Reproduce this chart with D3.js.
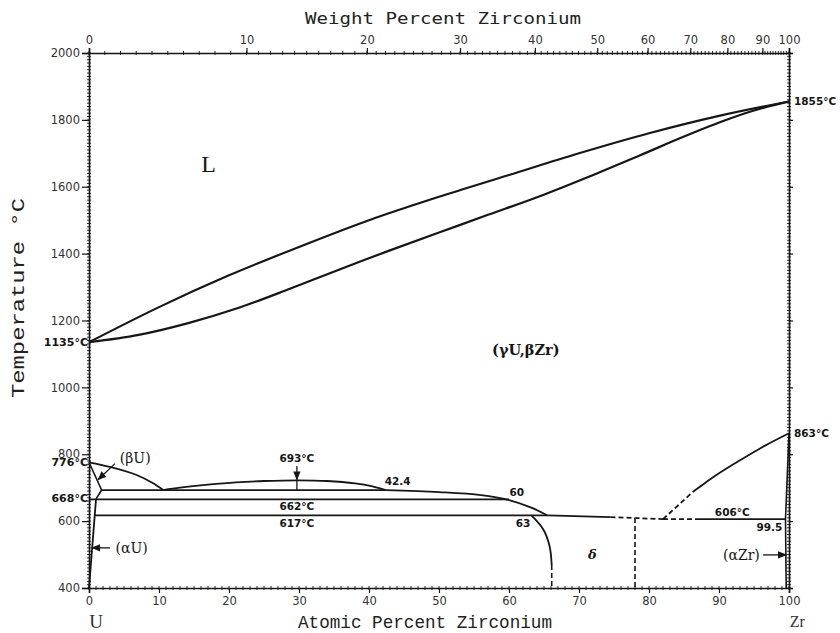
<!DOCTYPE html>
<html><head><meta charset="utf-8">
<script src="https://cdn.jsdelivr.net/npm/d3@7"></script>
<style>body{margin:0;background:#fff}svg{display:block}</style>
</head><body><svg id="c" width="840" height="633"></svg>
<script>
// ---------- data (at% Zr, °C) ----------
const atTicks = [0,10,20,30,40,50,60,70,80,90,100];
const tempTicks = [400,600,800,1000,1200,1400,1600,1800,2000];
const wtTicks = [0,10,20,30,40,50,60,70,80,90,100];
const wtTickAt = [0,22.5,39.7,53.0,63.7,72.6,79.8,85.9,91.2,96.2,100];

const liquidus = [[0,1135],[10,1240],[20,1335],[30,1420],[40,1500],[50,1570],[60,1635],[70,1700],[80,1760],[90,1812],[100,1855]];
const solidus  = [[0,1135],[7.1,1157],[14.3,1193],[21.4,1238],[28.6,1294],[35.7,1352],[42.9,1409],[50,1463],[57,1516],[64.3,1571],[71.4,1630],[78.6,1693],[85,1750],[90.4,1795],[95,1828],[100,1855]];
const gammaSolvusU = [[0,776],[3,762],[6.8,738],[9.1,714],[10.6,693]];
const dome = [[10.6,693],[13,700],[17,709],[21,716],[25,720],[30,722],[34,720],[38,713],[40.5,704],[42.4,693]];
const gamma2Bound = [[42.4,693],[50,687],[56,678],[60,663],[63,642],[65.5,617]];
const betaUpper = [[0,776],[1.8,693]];
const betaLower = [[1.8,693],[1.3,676],[1,665]];
const alphaU = [[0,400],[1,665]];
const isotherms = [{t:693,x0:1.8,x1:42.4},{t:665,x0:0,x1:60},{t:617,x0:0.85,x1:65.5}];
const deltaTopSolid = [[65.5,617],[74.5,612]];
const deltaTopDash = [[74.5,612],[82,606]];
const eutectoid606Dash = [[82,606],[87,606]];
const eutectoid606 = [[87,606],[99.5,606]];
const deltaLeft = [[63.2,617],[64.9,575],[65.8,525],[66.1,469]];
const deltaLeftDash = [[66.1,469],[66.1,400]];
const deltaRightDash = [[78,609],[78,400]];
const alphaZrDash = [[82,606],[86.3,688]];
const alphaZrBound = [[86.3,688],[88,714],[90,743],[93,782],[96.5,825],[100,863]];
const zrSolvus = [[99.6,400],[99.5,606],[100,863]];

const leaders = [
  {from:[3.7,772],to:[1.3,724]},
  {from:[3.0,520],to:[0.45,520]},
  {from:[96.3,499],to:[99.6,499]},
  {from:[29.7,765],to:[29.7,724]}
];
const leaderPlain = [[[29.7,724],[29.7,693]]];

const phaseLabels = [
  {x:6.6,t:789,s:"(βU)"},
  {x:6.1,t:520,s:"(αU)"},
  {x:93.2,t:499,s:"(αZr)"}
];
const valueLabels = [
  {x:29.7,t:789,s:"693°C"},
  {x:29.7,t:644,s:"662°C"},
  {x:29.7,t:594,s:"617°C"},
  {x:44.1,t:718,s:"42.4"},
  {x:61.1,t:685,s:"60"},
  {x:62.0,t:594,s:"63"},
  {x:91.9,t:625,s:"606°C"},
  {x:97.2,t:582,s:"99.5"}
];
const edgeLabelsLeft = [{t:1135,s:"1135°C"},{t:776,s:"776°C"},{t:668,s:"668°C"}];
const edgeLabelsRight = [{t:1855,s:"1855°C"},{t:863,s:"863°C"}];

// ---------- scales ----------
const svg = d3.select("#c");
const x = d3.scaleLinear().domain([0,100]).range([89,789]);
const y = d3.scaleLinear().domain([400,2000]).range([588,53]);
const wtScale = d3.scaleLinear().domain(wtTicks).range(wtTickAt);
const ink = "#161616";

svg.append("defs").append("marker")
  .attr("id","arr").attr("viewBox","0 0 10 10").attr("refX",9).attr("refY",5)
  .attr("markerWidth",7).attr("markerHeight",7).attr("orient","auto")
  .append("path").attr("d","M0,1L10,5L0,9Z").attr("fill",ink);

// ---------- axes ----------
const tickFont = "'DejaVu Sans', sans-serif";
const gL = svg.append("g").attr("transform",`translate(${x(0)},0)`)
  .call(d3.axisLeft(y).tickValues(tempTicks).tickSize(7).tickPadding(2).tickFormat(d3.format("d")));
const gB = svg.append("g").attr("transform",`translate(0,${y(400)})`)
  .call(d3.axisBottom(x).tickValues(atTicks).tickSize(5).tickPadding(4).tickFormat(d3.format("d")));
const gT = svg.append("g").attr("transform",`translate(0,${y(2000)})`)
  .call(d3.axisTop(x).tickValues(wtTicks.map(w=>wtScale(w))).tickSize(5).tickPadding(4)
    .tickFormat((d,i)=>wtTicks[i]));
const gR = svg.append("g").attr("transform",`translate(${x(100)},0)`)
  .call(d3.axisRight(y).tickValues(tempTicks).tickSize(4).tickFormat(""));
[gL,gB,gT,gR].forEach(g=>{
  g.select(".domain").attr("stroke",ink).attr("stroke-width",1.6);
  g.selectAll(".tick line").attr("stroke",ink).attr("stroke-width",1.2);
  g.selectAll(".tick text").attr("font-family",tickFont).attr("font-size",11.5)
    .attr("fill","#333");
});

// minor ticks
const minor = svg.append("g").attr("stroke",ink).attr("stroke-width",0.9);
d3.range(400,2001,10).forEach(t=>{
  minor.append("line").attr("x1",x(0)-2).attr("x2",x(0)+2).attr("y1",y(t)).attr("y2",y(t));
  minor.append("line").attr("x1",x(100)-2).attr("x2",x(100)+2).attr("y1",y(t)).attr("y2",y(t));
});
d3.range(0,101,1).forEach(a=>{
  minor.append("line").attr("x1",x(a)).attr("x2",x(a)).attr("y1",y(400)-2).attr("y2",y(400)+2);
});
d3.range(0,101,1).forEach(w=>{
  minor.append("line").attr("x1",x(wtScale(w))).attr("x2",x(wtScale(w))).attr("y1",y(2000)-2).attr("y2",y(2000)+2);
});

// ---------- phase boundaries ----------
const lineL = d3.line().x(d=>x(d[0])).y(d=>y(d[1]));
const lineC = d3.line().x(d=>x(d[0])).y(d=>y(d[1])).curve(d3.curveCatmullRom.alpha(0.5));
function draw(data, gen, dashed, w){
  svg.append("path").datum(data).attr("d",gen).attr("fill","none")
    .attr("stroke",ink).attr("stroke-width",w||2)
    .attr("stroke-dasharray",dashed?"5,3":null).attr("stroke-linecap","butt");
}
draw(liquidus,lineC,false,2.2);
draw(solidus,lineC,false,2.2);
draw(gammaSolvusU,lineC,false,1.8);
draw(dome,lineC,false,1.8);
draw(gamma2Bound,lineC,false,1.8);
draw(betaUpper,lineL,false,1.6);
draw(betaLower,lineC,false,1.6);
draw(alphaU,lineL,false,1.8);
isotherms.forEach(d=>draw([[d.x0,d.t],[d.x1,d.t]],lineL,false,1.8));
draw(deltaTopSolid,lineL,false,1.8);
draw(deltaTopDash,lineL,true,1.8);
draw(eutectoid606Dash,lineL,true,1.8);
draw(eutectoid606,lineL,false,1.6);
draw(deltaLeft,lineC,false,1.8);
draw(deltaLeftDash,lineL,true,1.6);
draw(deltaRightDash,lineL,true,1.6);
draw(alphaZrDash,lineL,true,1.8);
draw(alphaZrBound,lineC,false,1.8);
draw(zrSolvus,lineL,false,1.6);

// leaders
leaders.forEach(d=>{
  svg.append("line").attr("x1",x(d.from[0])).attr("y1",y(d.from[1]))
    .attr("x2",x(d.to[0])).attr("y2",y(d.to[1])).attr("stroke",ink).attr("stroke-width",1.3)
    .attr("marker-end","url(#arr)");
});
leaderPlain.forEach(d=>draw(d,lineL,false,1.3));

// ---------- labels ----------
const labFont = "'DejaVu Sans', sans-serif";
phaseLabels.forEach(d=>{
  svg.append("text").attr("x",x(d.x)).attr("y",y(d.t)).attr("dy","0.35em")
    .attr("text-anchor","middle").attr("font-family","'DejaVu Serif', serif")
    .attr("font-size",14).attr("fill",ink).text(d.s);
});
valueLabels.forEach(d=>{
  svg.append("text").attr("x",x(d.x)).attr("y",y(d.t)).attr("dy","0.35em")
    .attr("text-anchor","middle").attr("font-family",labFont)
    .attr("font-size",10.5).attr("font-weight","bold").attr("fill",ink).text(d.s);
});
edgeLabelsLeft.forEach(d=>{
  svg.append("text").attr("x",x(0)-1).attr("y",y(d.t)).attr("dy","0.35em")
    .attr("text-anchor","end").attr("font-family",labFont).attr("font-size",11)
    .attr("font-weight","bold").attr("fill",ink).text(d.s);
});
edgeLabelsRight.forEach(d=>{
  svg.append("text").attr("x",x(100)+5).attr("y",y(d.t)).attr("dy","0.35em")
    .attr("text-anchor","start").attr("font-family",labFont).attr("font-size",10.5)
    .attr("font-weight","bold").attr("fill",ink).text(d.s);
});
svg.append("text").attr("x",x(71.9)).attr("y",y(499)).attr("dy","0.35em").attr("text-anchor","middle")
  .attr("font-family","'DejaVu Serif', serif").attr("font-style","italic").attr("font-weight","bold")
  .attr("font-size",13).attr("fill",ink).text("δ");
svg.append("text").attr("x",x(17.1)).attr("y",y(1668)).attr("dy","0.35em").attr("text-anchor","middle")
  .attr("font-family","'Liberation Serif', serif").attr("font-size",24).attr("fill",ink).text("L");
svg.append("text").attr("x",x(62.4)).attr("y",y(1112)).attr("dy","0.35em").attr("text-anchor","middle")
  .attr("font-family","'DejaVu Serif', serif").attr("font-weight","bold").attr("font-size",14.5)
  .attr("fill",ink).text("(γU,βZr)");
svg.append("text").attr("x",x(1)).attr("y",628).attr("text-anchor","middle")
  .attr("font-family","'Liberation Serif', serif").attr("font-size",19).attr("fill","#333").text("U");
svg.append("text").attr("x",x(101.2)).attr("y",627).attr("text-anchor","middle")
  .attr("font-family","'Liberation Serif', serif").attr("font-size",16).attr("fill","#333").text("Zr");

// titles
svg.append("text").attr("x",425).attr("y",628).attr("text-anchor","middle")
  .attr("font-family","'Liberation Mono', monospace").attr("font-size",18).attr("fill","#222")
  .attr("textLength",254).attr("lengthAdjust","spacingAndGlyphs").text("Atomic Percent Zirconium");
svg.append("text").attr("x",443).attr("y",24).attr("text-anchor","middle")
  .attr("font-family","'DejaVu Sans Mono', monospace").attr("font-size",16).attr("fill","#222")
  .attr("textLength",276).attr("lengthAdjust","spacingAndGlyphs").text("Weight Percent Zirconium");
svg.append("text").attr("transform","translate(24,298) rotate(-90)").attr("text-anchor","middle")
  .attr("font-family","'Liberation Mono', monospace").attr("font-size",18).attr("fill","#222")
  .attr("textLength",200).attr("lengthAdjust","spacingAndGlyphs")
  .text("Temperature °C");
</script></body></html>
